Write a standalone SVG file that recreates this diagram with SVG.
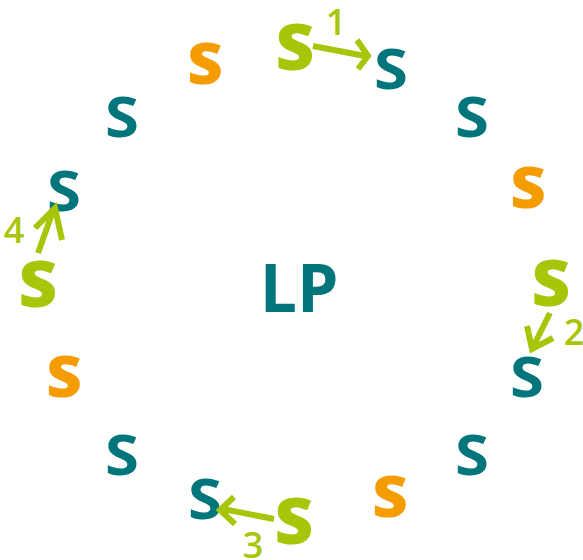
<svg xmlns="http://www.w3.org/2000/svg" width="583" height="560" viewBox="0 0 583 560">
<style>
text{font-family:"Open Sans","Noto Sans",sans-serif;text-anchor:middle}
.t{fill:#00767c;font-weight:700;font-size:56px}
.o{fill:#f49c00;font-weight:800;font-size:56px}
.g{fill:#a9c50a;font-weight:800;font-size:64px}
.n{fill:#a9c50a;font-weight:600;font-size:36px}
.lp{fill:#00767c;font-weight:700;font-size:66px}
.a{fill:none;stroke:#a9c50a;stroke-width:6;stroke-linecap:butt;stroke-linejoin:miter}
</style>
<rect width="583" height="560" fill="#fff"/>
<g id="center"><text class="lp" x="299" y="312">LP</text></g>
<g id="s-teal-1" transform="translate(391,89) scale(1.1,1)"><text class="t">S</text></g>
<g id="s-teal-2" transform="translate(472,137) scale(1.1,1)"><text class="t">S</text></g>
<g id="s-teal-3" transform="translate(122,137) scale(1.1,1)"><text class="t">S</text></g>
<g id="s-teal-4" transform="translate(64,211) scale(1.1,1)"><text class="t">S</text></g>
<g id="s-teal-5" transform="translate(527,397) scale(1.1,1)"><text class="t">S</text></g>
<g id="s-teal-6" transform="translate(472,475) scale(1.1,1)"><text class="t">S</text></g>
<g id="s-teal-7" transform="translate(122,475) scale(1.1,1)"><text class="t">S</text></g>
<g id="s-teal-8" transform="translate(205,519) scale(1.1,1)"><text class="t">S</text></g>
<g id="s-orange-1" transform="translate(205,84) scale(1.1,1)"><text class="o">S</text></g>
<g id="s-orange-2" transform="translate(528,208) scale(1.1,1)"><text class="o">S</text></g>
<g id="s-orange-3" transform="translate(64,397) scale(1.1,1)"><text class="o">S</text></g>
<g id="s-orange-4" transform="translate(390,517) scale(1.1,1)"><text class="o">S</text></g>
<g id="s-green-1" transform="translate(295,70) scale(1.05,1)"><text class="g">S</text></g>
<g id="s-green-2" transform="translate(551,306) scale(1.05,1)"><text class="g">S</text></g>
<g id="s-green-3" transform="translate(38,307) scale(1.05,1)"><text class="g">S</text></g>
<g id="s-green-4" transform="translate(294,544) scale(1.05,1)"><text class="g">S</text></g>
<g id="connectors">
<path class="a" d="M313,46 L365,56 M357,40 L368,56 L358,69"/>
<path class="a" d="M550,313 L533,347 M527,326 L532,349 L553,338"/>
<path class="a" d="M274,519 L223,509 M234,497 L220,510 L235,524"/>
<path class="a" d="M38,253 L53,211 M35,228 L55,208 L62,240"/>
</g>
<g id="labels">
<text class="n" x="336" y="35">1</text>
<text class="n" x="574" y="345">2</text>
<text class="n" x="253" y="558">3</text>
<text class="n" x="14" y="243">4</text>
</g>
</svg>
